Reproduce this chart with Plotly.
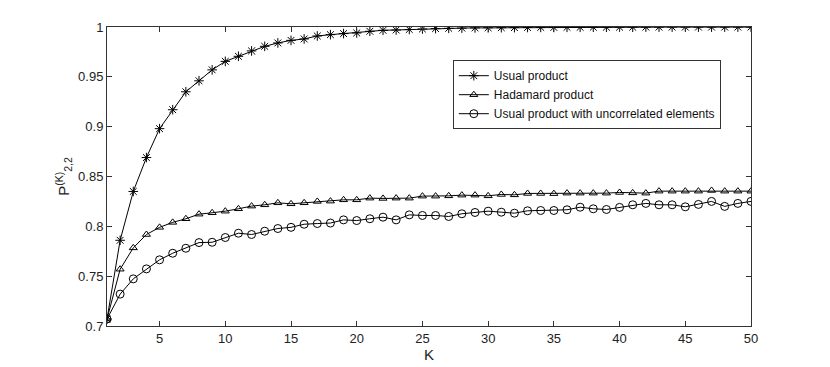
import plotly.graph_objects as go

K = list(range(1, 51))

usual = [0.707, 0.786, 0.835, 0.869, 0.898, 0.917, 0.935, 0.946, 0.957, 0.9655,
         0.9706, 0.976, 0.9806, 0.984, 0.9866, 0.988, 0.991, 0.9923, 0.9934, 0.994,
         0.9957, 0.9967, 0.997, 0.9975, 0.998, 0.9984, 0.9987, 0.9989, 0.9991, 0.9992,
         0.9993, 0.9994, 0.9995, 0.9996, 0.9996, 0.9997, 0.9997, 0.9998, 0.9998, 0.9998,
         0.9998, 0.9999, 0.9999, 0.9999, 0.9999, 0.9999, 0.9999, 0.9999, 0.9999, 0.9999]

hadamard = [0.707, 0.757, 0.7784, 0.7918, 0.799, 0.804, 0.8076, 0.8122, 0.8136, 0.8152,
            0.8176, 0.8203, 0.8216, 0.8236, 0.8226, 0.8236, 0.825, 0.8253, 0.8266, 0.8266,
            0.8283, 0.828, 0.8283, 0.8283, 0.8303, 0.8303, 0.8306, 0.8313, 0.8313, 0.8306,
            0.832, 0.8316, 0.833, 0.833, 0.8328, 0.8333, 0.8333, 0.8333, 0.8333, 0.834,
            0.8336, 0.8333, 0.8353, 0.8353, 0.8353, 0.8353, 0.836, 0.8353, 0.8353, 0.8353]

uncorrelated = [0.707, 0.732, 0.7473, 0.7573, 0.7664, 0.773, 0.778, 0.7837, 0.784, 0.7888,
                0.7931, 0.7918, 0.7951, 0.7978, 0.799, 0.8021, 0.8028, 0.8033, 0.8065, 0.8058,
                0.8076, 0.8092, 0.8065, 0.8115, 0.8109, 0.8109, 0.8099, 0.8126, 0.8139, 0.8152,
                0.8142, 0.8132, 0.8156, 0.8159, 0.8159, 0.8166, 0.8192, 0.8176, 0.8169, 0.819,
                0.8216, 0.823, 0.8216, 0.8216, 0.8196, 0.822, 0.825, 0.82, 0.823, 0.825]

names = ["Usual product", "Hadamard product", "Usual product with uncorrelated elements"]
symbols = ["asterisk-open", "triangle-up-open", "circle-open"]
sizes = [8, 7, 8]

x_ticks = [5, 10, 15, 20, 25, 30, 35, 40, 45, 50]
y_ticks = [0.7, 0.75, 0.8, 0.85, 0.9, 0.95, 1.0]
y_tick_text = ["0.7", "0.75", "0.8", "0.85", "0.9", "0.95", "1"]

fig = go.Figure()
for ys, nm, sym, sz in zip([usual, hadamard, uncorrelated], names, symbols, sizes):
    fig.add_trace(go.Scatter(
        x=K, y=ys, name=nm, mode="lines+markers",
        line=dict(color="black", width=1),
        marker=dict(symbol=sym, size=sz, color="black", line=dict(color="black", width=1)),
    ))

axis_common = dict(
    showline=True, linecolor="#333", linewidth=1, mirror="ticks",
    ticks="inside", ticklen=5, tickcolor="#333",
    showgrid=False, zeroline=False,
    tickfont=dict(family="Liberation Sans, Arial, sans-serif", size=13, color="#222"),
)

fig.update_layout(
    width=822, height=359,
    margin=dict(l=99, r=79, t=19, b=41),
    paper_bgcolor="white", plot_bgcolor="white",
    font=dict(family="Liberation Sans, Arial, sans-serif", color="#222"),
    xaxis=dict(range=[1, 50], tickvals=x_ticks,
               title=dict(text="K", font=dict(size=15), standoff=0), **axis_common),
    yaxis=dict(range=[0.7, 1.0], tickvals=y_ticks, ticktext=y_tick_text,
               title=dict(text="P<sup>(K)</sup><sub>2,2</sub>", font=dict(size=15), standoff=4),
               **axis_common),
    legend=dict(x=0.537, y=0.889, xanchor="left", yanchor="top",
                bgcolor="white", bordercolor="#333", borderwidth=1,
                font=dict(size=12, color="#111"), tracegroupgap=0, itemwidth=30),
    showlegend=True,
)

fig.write_html("out.html")
